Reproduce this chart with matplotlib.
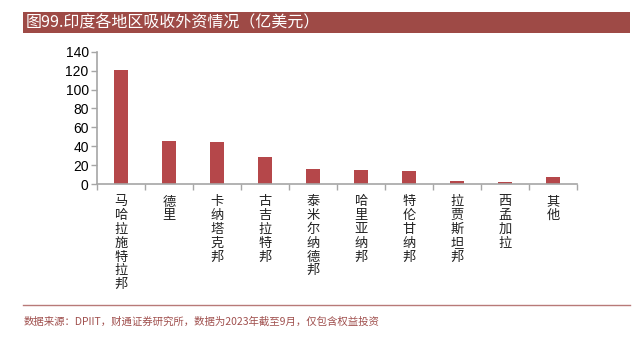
import matplotlib.pyplot as plt
from matplotlib.patches import Rectangle

plt.rcParams['font.family'] = ['Noto Sans CJK SC', 'DejaVu Sans']

regions = ['马哈拉施特拉邦', '德里', '卡纳塔克邦', '古吉拉特邦', '泰米尔纳德邦',
           '哈里亚纳邦', '特伦甘纳邦', '拉贾斯坦邦', '西孟加拉', '其他']
fdi = [120.2, 45.5, 44.9, 28.8, 16.0, 15.3, 13.8, 2.8, 2.1, 7.4]
y_ticks = [0, 20, 40, 60, 80, 100, 120, 140]

title = '图99.印度各地区吸收外资情况（亿美元）'
source = '数据来源：DPIIT，财通证券研究所，数据为2023年截至9月，仅包含权益投资'

bar_color = '#B5474A'
head_color = '#9E4A46'
axis_gray = '#A6A6A6'

fig = plt.figure(figsize=(6.36, 3.43), dpi=100)
W, H = 636, 343

# title banner
fig.patches.append(Rectangle((23 / W, 1 - 33 / H), (630 - 23) / W, 21 / H,
                             transform=fig.transFigure, facecolor=head_color,
                             edgecolor='none'))
fig.text(26 / W, 1 - 22.5 / H, title, color='white', fontsize=11.5,
         va='center', ha='left')

ax = fig.add_axes([97 / W, 159 / H, 480 / W, 132.3 / H])
x = list(range(len(regions)))
ax.bar(x, fdi, width=0.3, color=bar_color, zorder=2)
ax.set_xlim(-0.5, len(regions) - 0.5)
ax.set_ylim(0, 140)
ax.set_yticks(y_ticks)
ax.set_yticklabels([str(v) for v in y_ticks], family='Liberation Sans', fontsize=10)

ax.set_xticks([i - 0.5 for i in range(len(regions) + 1)])
ax.set_xticklabels([])
ax.tick_params(axis='x', length=4, color=axis_gray, width=1)
ax.tick_params(axis='y', length=4, color=axis_gray, width=1, pad=2)

for side in ['top', 'right']:
    ax.spines[side].set_visible(False)
for side in ['left', 'bottom']:
    ax.spines[side].set_color(axis_gray)
    ax.spines[side].set_linewidth(1.2)

# vertical category labels, one character per line
for i, name in enumerate(regions):
    ax.text(i, -12, '\n'.join(name), ha='center', va='top', fontsize=9.5,
            linespacing=1.08, color='#222222')

# footer
fig.add_artist(plt.Line2D([23 / W, 630 / W], [1 - 305 / H, 1 - 305 / H],
                          transform=fig.transFigure, color='#B87A78', lw=1))
fig.text(24 / W, 1 - 321.5 / H, source, color='#A0504E', fontsize=7.5,
         va='center', ha='left')

fig.savefig('out.png', dpi=100)
